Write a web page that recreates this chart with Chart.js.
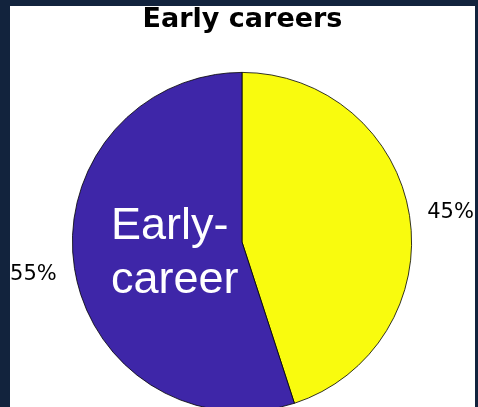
<!DOCTYPE html>
<html>
<head>
<meta charset="utf-8">
<script src="https://cdn.jsdelivr.net/npm/chart.js@4/dist/chart.umd.min.js"></script>
<style>
body { margin: 0; background: #12233d; width: 478px; height: 407px; overflow: hidden; }
#frame { position: absolute; left: 10px; top: 6px; width: 465px; height: 401px; background: #fff; overflow: hidden; }
</style>
</head>
<body>
<div id="frame"><canvas id="chart" width="465" height="480"></canvas></div>
<script>
//chart data
let titleText = 'Early careers'
let categories = ['Other', 'Early-career']
let shares = [45, 55]
let sliceLabels = ['45%', '55%']
let sliceColors = ['#f9fb0e', '#3e26a8']
let insideText = ['Early-', 'career']

//draws title, percent labels and the text inside the purple slice
let textPlugin = {
    id: 'textPlugin',
    afterDraw(chart) {
        let ctx = chart.ctx
        let arcs = chart.getDatasetMeta(0).data
        ctx.save()

        ctx.fillStyle = '#000'
        ctx.font = 'bold 27px "DejaVu Sans"'
        ctx.textAlign = 'center'
        ctx.textBaseline = 'alphabetic'
        ctx.fillText(titleText, 232.5, 21)

        ctx.font = '21px "DejaVu Sans"'
        ctx.textBaseline = 'middle'
        arcs.forEach((arc, i) => {
            let mid = (arc.startAngle + arc.endAngle) / 2
            let r = arc.outerRadius
            ctx.fillText(sliceLabels[i], arc.x + Math.cos(mid) * r * 1.245, arc.y + Math.sin(mid) * r * 1.17 + 2)
        })

        ctx.fillStyle = '#fff'
        ctx.font = '45px "Liberation Sans"'
        ctx.textAlign = 'left'
        ctx.textBaseline = 'alphabetic'
        ctx.fillText(insideText[0], 101, 233)
        ctx.fillText(insideText[1], 101, 287)
        ctx.restore()
    }
}

let data = {
    labels: categories,
    datasets: [{
        data: shares,
        backgroundColor: sliceColors,
        borderColor: '#000',
        borderWidth: 0.8
    }]
}

const config = {
    type: 'pie',
    data: data,
    options: {
        responsive: false,
        animation: false,
        layout: { padding: { left: 62, right: 63, top: 66, bottom: 74 } },
        plugins: {
            legend: { display: false },
            tooltip: { enabled: false }
        }
    },
    plugins: [textPlugin]
}

new Chart(document.querySelector('#chart').getContext('2d'), config)
</script>
</body>
</html>
